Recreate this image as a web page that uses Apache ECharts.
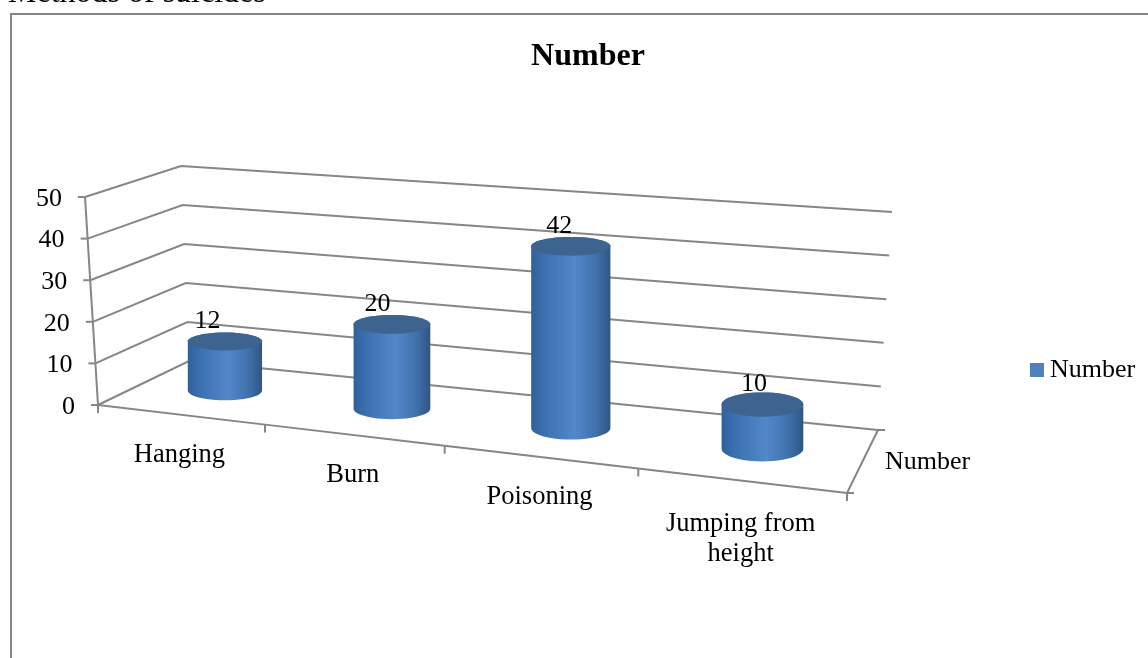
<!DOCTYPE html>
<html><head><meta charset="utf-8">
<script src="https://cdn.jsdelivr.net/npm/echarts@6/dist/echarts.min.js"></script>
<style>html,body{margin:0;padding:0;background:#fff;overflow:hidden}#c{width:1148px;height:658px}</style>
</head><body><div id="c"></div>
<script>
const categories = ['Hanging', 'Burn', 'Poisoning', 'Jumping from\nheight'];
const values = [12, 20, 42, 10];
const yTicks = [0, 10, 20, 30, 40, 50];
const seriesName = 'Number';
const depthLabel = 'Number';
const chartTitle = 'Number';
const caption = 'Methods of suicides';

const FONT = '"Liberation Serif","Times New Roman",serif';
const LINE = '#868686';
const GRID = {left: 98, top: 197, width: 749, height: 208};

function homography(p0, p1, p2, p3) {
  const dx1 = p1[0]-p2[0], dx2 = p3[0]-p2[0], sx = p0[0]-p1[0]+p2[0]-p3[0];
  const dy1 = p1[1]-p2[1], dy2 = p3[1]-p2[1], sy = p0[1]-p1[1]+p2[1]-p3[1];
  const den = dx1*dy2-dx2*dy1;
  const g = (sx*dy2-dx2*sy)/den, h = (dx1*sy-sx*dy1)/den;
  const a = p1[0]-p0[0]+g*p1[0], b = p3[0]-p0[0]+h*p3[0], c = p0[0];
  const d = p1[1]-p0[1]+g*p1[1], e = p3[1]-p0[1]+h*p3[1], f = p0[1];
  return (u, v) => { const w = g*u+h*v+1; return [(a*u+b*v+c)/w, (d*u+e*v+f)/w]; };
}
// scene planes: floor (value 0) and ceiling (value 50); u along categories, v into depth
const floorPlane = homography([98,405],[847,493],[878,430],[189,361]);
const topPlane = homography([85,197],[862,266],[892,212],[181,166]);
const warp = (u) => u + 0.07*u*(1-u);
function project(u, v, t) {
  const w = warp(u), a = floorPlane(w, v), b = topPlane(w, v);
  return [a[0]+(b[0]-a[0])*t, a[1]+(b[1]-a[1])*t];
}
function fracOf(api, val) {
  const y0 = api.coord([0, yTicks[0]])[1], y1 = api.coord([0, yTicks[yTicks.length-1]])[1];
  return (y0 - api.coord([0, val])[1]) / (y0 - y1);
}
function uOf(api, idx) { return (api.coord([idx, 0])[0] - GRID.left) / GRID.width; }
const lineStyle = {stroke: LINE, lineWidth: 2, fill: null};
const txt = (x, y, text, align, size) => ({type:'text', style:{x, y, text, align: align||'center', verticalAlign:'middle', fill:'#000', font:(size||26)+'px '+FONT, lineHeight:30}});
const poly = (points) => ({type:'polyline', shape:{points}, style: lineStyle});

function renderWall(params, api) {
  const val = api.value(1), t = fracOf(api, val);
  const f = project(0,0,t), bl = project(0,1,t), br = project(1,1,t);
  const children = [poly([f, bl, br]), poly([[f[0]-7,f[1]], f])];
  if (params.dataIndex < yTicks.length-1) children.push(poly([f, project(0,0,fracOf(api, yTicks[params.dataIndex+1]))]));
  children.push(txt(f[0]-23, f[1]+2, String(val), 'right'));
  return {type:'group', children};
}
function renderFloor(params, api) {
  const i = api.value(0);
  const u0 = i/categories.length, u1 = (i+1)/categories.length;
  const a = project(u0,0,0), b = project(u1,0,0), children = [];
  children.push(poly([a, b]), poly([b, [b[0], b[1]+8]]));
  if (i === 0) children.push(poly([a, [a[0], a[1]+8]]));
  const m = [(a[0]+b[0])/2, (a[1]+b[1])/2];
  const off = categories[i].indexOf('\n') >= 0 ? 58 : 40;
  children.push(txt(m[0]-2, m[1]+off, categories[i], 'center', 26.5));
  if (i === categories.length-1) {
    const c = project(1,1,0);
    children.push(poly([b, c]), poly([c,[c[0]+7,c[1]]]), poly([b,[b[0]+7,b[1]]]));
    children.push(txt((b[0]+c[0])/2+65, (b[1]+c[1])/2+1, depthLabel));
  }
  return {type:'group', children};
}
function ellipse(cx, cy, rx, ry, from, to, n) {
  const pts = [];
  for (let k = 0; k <= n; k++) {
    const th = from + (to-from)*k/n;
    pts.push([cx+rx*Math.cos(th), cy+ry*Math.sin(th)]);
  }
  return pts;
}
function renderCylinder(params, api) {
  const idx = api.value(0), val = api.value(1);
  const u = uOf(api, idx), t = fracOf(api, val);
  const du = 0.05, dv = 0.21;
  const b0 = project(u,0.5,0), cx = b0[0];
  const rx = (project(u+du,0.5,0)[0] - project(u-du,0.5,0)[0]) / 2 * (1.17-0.16*u);
  const baseRy = (project(u,0.5-dv,0)[1] - project(u,0.5+dv,0)[1]) / 2;
  const topCy = project(u,0.5,t)[1];
  const topRy = (project(u,0.5-dv,t)[1] - project(u,0.5+dv,t)[1]) / 2;
  // side: far half of top rim joined to the near half of the base rim (screen y grows downward)
  const side = ellipse(cx, topCy, rx, topRy, 2*Math.PI, Math.PI, 24)
    .concat(ellipse(cx, b0[1], rx, baseRy, Math.PI, 0, 24));
  const grad = {type:'linear', x:cx-rx, y:0, x2:cx+rx, y2:0, global:true, colorStops:[
    {offset:0,color:'#31609a'},{offset:0.18,color:'#3c72b2'},{offset:0.55,color:'#5287ca'},
    {offset:0.82,color:'#4071ab'},{offset:1,color:'#2d5684'}]};
  return {type:'group', children:[
    {type:'polygon', shape:{points:side}, style:{fill:grad}},
    {type:'polygon', shape:{points:ellipse(cx, topCy, rx, topRy, 0, 2*Math.PI, 48)}, style:{fill:'#3d648f'}},
    {type:'text', style:{x:cx-19+12*u, y:topCy-20, text:String(val), align:'center', verticalAlign:'middle', fill:'#000', font:'26px '+FONT}}
  ]};
}

const chart = echarts.init(document.getElementById('c'), null, {renderer:'canvas'});
chart.setOption({
  animation:false, backgroundColor:'#fff',
  title:[
    {text:chartTitle, left:583, top:36, textAlign:'center', textStyle:{fontFamily:FONT, fontSize:32, fontWeight:'bold', color:'#000'}},
    {text:caption, left:3, top:-27, textStyle:{fontFamily:FONT, fontSize:32, fontWeight:'normal', color:'#000'}}
  ],
  legend:{left:1025, top:352, itemWidth:14, itemHeight:14, itemGap:0, icon:'rect',
    data:[seriesName], textStyle:{fontFamily:FONT, fontSize:26, color:'#000', padding:[3,0,0,1]}},
  grid:GRID,
  xAxis:{type:'category', data:categories, show:false},
  yAxis:{type:'value', min:0, max:50, interval:10, show:false},
  graphic:[{type:'rect', silent:true, z:-1, shape:{x:11,y:14,width:1300,height:800}, style:{fill:'none',stroke:LINE,lineWidth:2}}],
  series:[
    {type:'custom', name:'walls', silent:true, clip:false, z:1, renderItem:renderWall, encode:{x:0,y:1}, data:yTicks.map(v=>[0,v])},
    {type:'custom', name:'floor', silent:true, clip:false, z:2, renderItem:renderFloor, encode:{x:0,y:1}, data:categories.map((c,i)=>[i,0])},
    {type:'custom', name:seriesName, silent:true, clip:false, z:3, renderItem:renderCylinder, encode:{x:0,y:1},
      itemStyle:{color:'#4f81bd'}, data:values.map((v,i)=>[i,v])}
  ]
});
</script></body></html>
